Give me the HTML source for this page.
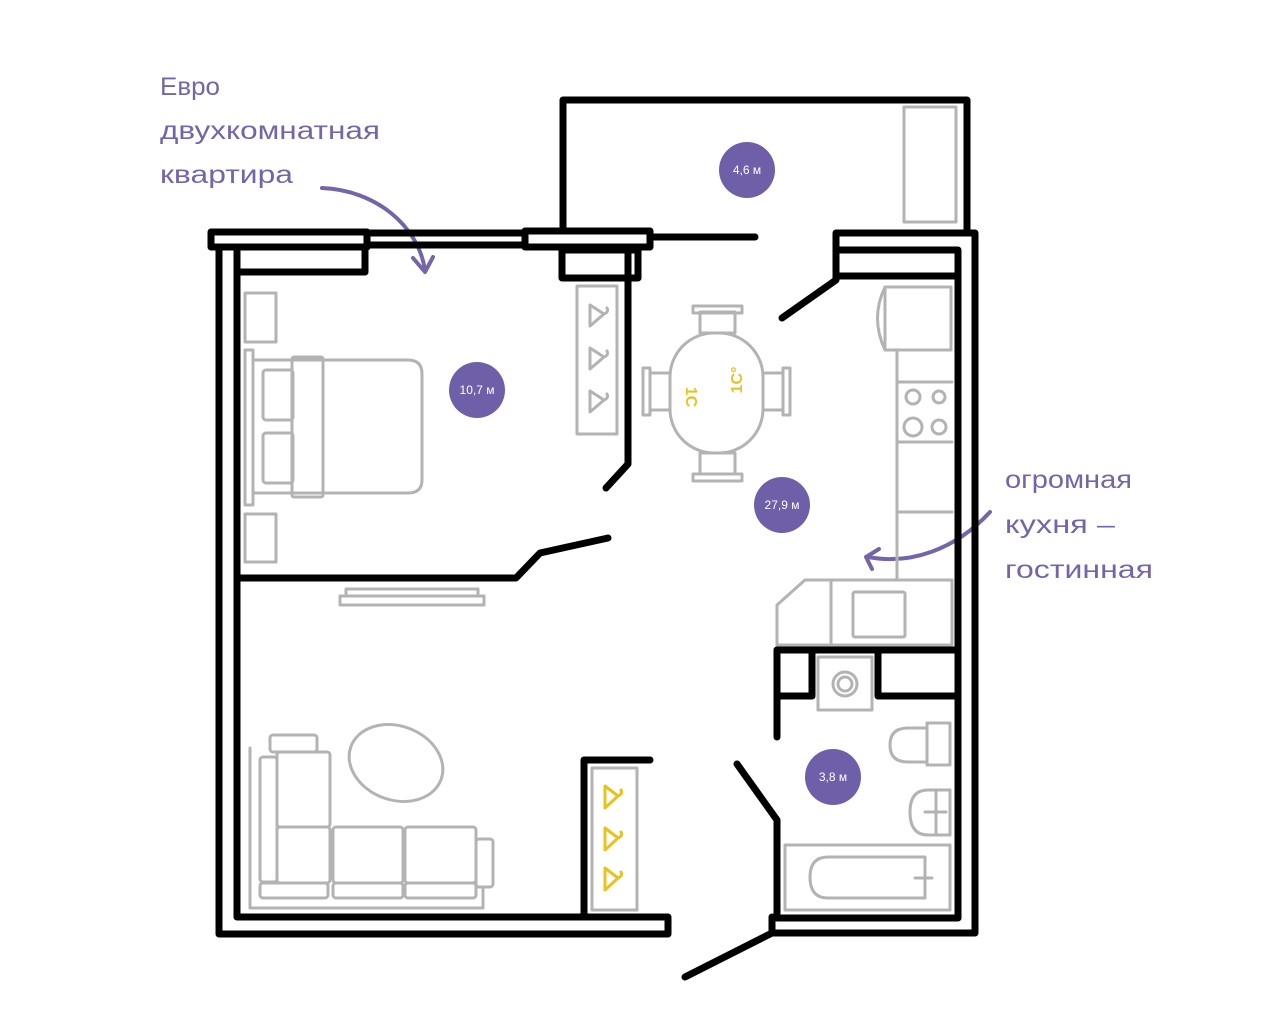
<!DOCTYPE html>
<html><head><meta charset="utf-8"><style>
html,body{margin:0;padding:0;background:#fff;}
svg{display:block}
.w{fill:none;stroke:#000;stroke-width:7;stroke-linecap:round;stroke-linejoin:round}
.g{fill:none;stroke:#b3b3b3;stroke-width:3;stroke-linejoin:round;stroke-linecap:round}
.y{fill:none;stroke:#e8c21e;stroke-width:3;stroke-linecap:round;stroke-linejoin:round}
.hl{font-family:"Liberation Sans","DejaVu Sans",sans-serif;font-size:25px;fill:#7565a8}
.ct{font-family:"Liberation Sans","DejaVu Sans",sans-serif;font-size:12px;fill:#fff;text-anchor:middle}
</style></head><body>
<svg width="1280" height="1025" viewBox="0 0 1280 1025" xmlns="http://www.w3.org/2000/svg">
<text class="hl" x="160" y="95" textLength="60" lengthAdjust="spacingAndGlyphs">Евро</text>
<text class="hl" x="160" y="139" textLength="220" lengthAdjust="spacingAndGlyphs">двухкомнатная</text>
<text class="hl" x="160" y="183" textLength="133" lengthAdjust="spacingAndGlyphs">квартира</text>
<text class="hl" x="1005" y="488" textLength="127" lengthAdjust="spacingAndGlyphs">огромная</text>
<text class="hl" x="1005" y="533" textLength="110" lengthAdjust="spacingAndGlyphs">кухня –</text>
<text class="hl" x="1005" y="578" textLength="148" lengthAdjust="spacingAndGlyphs">гостинная</text>
<path d="M322,188 C375,190 418,225 425,270" fill="none" stroke="#7565a8" stroke-width="4" stroke-linecap="round"/>
<path d="M413,258 L425,272 L433,257" fill="none" stroke="#7565a8" stroke-width="4" stroke-linecap="round" stroke-linejoin="round"/>
<path d="M990,512 C955,550 910,565 868,557" fill="none" stroke="#7565a8" stroke-width="4" stroke-linecap="round"/>
<path d="M879,549 L866,557 L872,569" fill="none" stroke="#7565a8" stroke-width="4" stroke-linecap="round" stroke-linejoin="round"/>

<path class="w" d="M219,248 V934 H668 V917 H237 V250"/>
<rect class="w" x="211" y="232" width="156" height="15"/>
<path class="w" d="M237,250 V272 H365 V250"/>
<line class="w" x1="367" y1="233" x2="525" y2="233"/>
<line class="w" x1="367" y1="245" x2="525" y2="245"/>
<rect class="w" x="525" y="231" width="125" height="16"/>
<line class="w" x1="650" y1="237" x2="755" y2="237"/>
<path class="w" d="M563,231 V100 H967 V230"/>
<rect class="w" x="562" y="250" width="76" height="28"/>
<path class="w" d="M628,250 V464 L606,488"/>
<path class="w" d="M237,578 H516 L540,553 L608,538"/>
<path class="w" d="M650,760 H584 V917"/>
<path class="w" d="M782,318 L836,280 V233 H975 V933 H772 V917"/>
<path class="w" d="M838,250 H958 V918 H777 V820 L737,764"/>
<line class="w" x1="838" y1="276" x2="958" y2="276"/>
<line class="w" x1="772" y1="933" x2="685" y2="977"/>
<path class="w" d="M777,737 V650 H958"/>
<path class="w" d="M777,650 V696 H812 V650"/>
<path class="w" d="M958,696 H878 V650"/>

<rect class="g" x="904" y="107" width="52" height="115"/>
<rect class="g" x="245" y="293" width="31" height="49"/>
<rect class="g" x="245" y="514" width="31" height="48"/>
<rect class="g" x="245" y="350" width="8" height="155"/>
<path class="g" d="M253,360 H408 Q422,360 422,374 V480 Q422,493 408,493 H253"/>
<rect class="g" x="263" y="370" width="30" height="50" rx="3"/>
<rect class="g" x="263" y="433" width="30" height="50" rx="3"/>
<rect class="g" x="292" y="357" width="31" height="140" rx="2"/>
<rect class="g" x="577" y="286" width="40" height="148"/>
<path class="g" d="M590,305 V326 L604,314 Q609,312 607,308 M590,305 L604,314"/>
<path class="g" d="M590,348 V369 L604,357 Q609,355 607,351 M590,348 L604,357"/>
<path class="g" d="M590,391 V412 L604,400 Q609,398 607,394 M590,391 L604,400"/>
<rect class="g" x="346" y="589" width="132" height="7"/>
<rect class="g" x="340" y="596" width="144" height="9"/>
<rect class="g" x="670" y="333" width="93" height="120" rx="44"/>
<rect class="g" x="700" y="312" width="35" height="21"/><rect class="g" x="693" y="306" width="49" height="7"/>
<rect class="g" x="700" y="453" width="35" height="21"/><rect class="g" x="693" y="474" width="49" height="7"/>
<rect class="g" x="650" y="373" width="20" height="37"/><rect class="g" x="643" y="368" width="7" height="47"/>
<rect class="g" x="763" y="373" width="20" height="37"/><rect class="g" x="783" y="368" width="7" height="47"/>
<text x="690" y="393" transform="rotate(90 686 393)" font-family="Liberation Sans,sans-serif" font-size="16" font-weight="bold" fill="#e8c21e" text-anchor="middle">1C</text>
<text x="742" y="380" transform="rotate(-90 742 380)" font-family="Liberation Sans,sans-serif" font-size="16" font-weight="bold" fill="#e8c21e" text-anchor="middle">1C°</text>
<path class="g" d="M885,287 H951 V350 H885 Q870,318 885,287 Z"/>
<line class="g" x1="885" y1="287" x2="885" y2="350"/>
<path class="g" d="M897,350 V580 M897,382 H952 M897,442 H952 M897,512 H952"/>
<circle class="g" cx="913" cy="397" r="7"/><circle class="g" cx="939" cy="397" r="6"/>
<circle class="g" cx="913" cy="427" r="9"/><circle class="g" cx="939" cy="427" r="7"/>
<path class="g" d="M805,580 H952 V645 H777 V605 Z M831,580 V645"/>
<rect class="g" x="853" y="592" width="52" height="45" rx="2"/>
<rect class="g" x="818" y="657" width="54" height="53"/>
<circle class="g" cx="845" cy="684" r="12"/><circle class="g" cx="845" cy="684" r="7"/>
<rect class="g" x="927" y="723" width="23" height="42"/>
<path class="g" d="M927,728 H908 Q890,728 890,745 Q890,762 908,762 H927"/>
<rect class="g" x="936" y="790" width="14" height="45"/>
<path class="g" d="M936,790 H928 Q910,790 910,812 Q910,835 928,835 H936 M925,812 H946"/>
<rect class="g" x="785" y="845" width="165" height="65"/>
<path class="g" d="M925,857 H828 Q810,857 810,877 Q810,898 828,898 H925 Z M915,878 H932"/>
<path class="g" d="M250,748 V908 H483 V889"/>
<rect class="g" x="270" y="735" width="47" height="17" rx="3"/>
<rect class="g" x="260" y="757" width="17" height="125" rx="3"/>
<rect class="g" x="277" y="752" width="53" height="75" rx="3"/>
<rect class="g" x="277" y="827" width="53" height="56" rx="3"/>
<rect class="g" x="333" y="827" width="70" height="56" rx="3"/>
<rect class="g" x="405" y="827" width="71" height="56" rx="3"/>
<rect class="g" x="476" y="839" width="17" height="48" rx="3"/>
<rect class="g" x="260" y="883" width="68" height="15" rx="3"/>
<rect class="g" x="333" y="883" width="70" height="15" rx="3"/>
<rect class="g" x="405" y="883" width="71" height="15" rx="3"/>
<ellipse class="g" cx="396" cy="763" rx="48" ry="37" transform="rotate(20 396 763)"/>
<rect class="g" x="592" y="768" width="45" height="142"/>
<path class="y" d="M605,786 V808 L618,796 Q623,794 621,790 M605,786 L618,796"/>
<path class="y" d="M605,828 V850 L618,838 Q623,836 621,832 M605,828 L618,838"/>
<path class="y" d="M605,868 V890 L618,878 Q623,876 621,872 M605,868 L618,878"/>
<circle cx="747" cy="170" r="28" fill="#6e5fa8"/><text class="ct" x="747" y="174">4,6 м</text>
<circle cx="477" cy="390" r="28" fill="#6e5fa8"/><text class="ct" x="477" y="394">10,7 м</text>
<circle cx="782" cy="505" r="28" fill="#6e5fa8"/><text class="ct" x="782" y="509">27,9 м</text>
<circle cx="833" cy="777" r="28" fill="#6e5fa8"/><text class="ct" x="833" y="781">3,8 м</text>
</svg>
</body></html>
